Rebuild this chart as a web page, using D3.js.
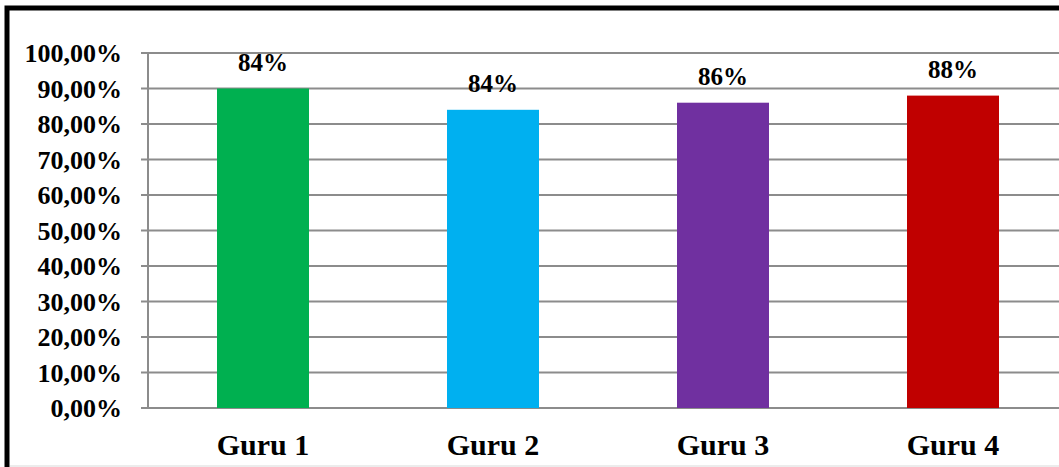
<!DOCTYPE html>
<html>
<head>
<meta charset="utf-8">
<script src="https://cdn.jsdelivr.net/npm/d3@7"></script>
<style>
  body { margin: 0; background: #fff; }
  text { font-family: "Liberation Serif", "Times New Roman", serif; font-weight: bold; fill: #000; }
</style>
</head>
<body>
<div id="chart"></div>
<script>
const categories = ["Guru 1", "Guru 2", "Guru 3", "Guru 4"]
const values = [90, 84, 86, 88]
const valueLabels = ["84%", "84%", "86%", "88%"]
const colors = ["#00B050", "#00B0F0", "#7030A0", "#C00000"]
const yTicks = [0, 10, 20, 30, 40, 50, 60, 70, 80, 90, 100]

const width = 1059
const height = 467
const margin = { top: 53, left: 148, bottom: 59 }

const svg = d3.select("#chart")
  .append("svg")
  .attr("width", width)
  .attr("height", height)

// frame
svg.append("rect")
  .attr("x", 7).attr("y", 8)
  .attr("width", width + 10).attr("height", height + 10)
  .attr("fill", "#fff")
  .attr("stroke", "#000")
  .attr("stroke-width", 5)

svg.append("line")
  .attr("x1", 10).attr("x2", width)
  .attr("y1", 466).attr("y2", 466)
  .attr("stroke", "#d9d9d9")
  .attr("stroke-width", 1)

const x = d3.scaleBand()
  .domain(categories)
  .range([margin.left, margin.left + 4 * 230])
  .paddingInner(0.6)
  .paddingOuter(0.3)

const y = d3.scaleLinear()
  .domain([0, 100])
  .range([height - margin.bottom, margin.top])

// gridlines
svg.append("g")
  .selectAll("line")
  .data(yTicks)
  .join("line")
  .attr("x1", margin.left - 7)
  .attr("x2", width)
  .attr("y1", d => y(d))
  .attr("y2", d => y(d))
  .attr("stroke", "#8c8c8c")
  .attr("stroke-width", 2)

// y axis line
svg.append("line")
  .attr("x1", margin.left).attr("x2", margin.left)
  .attr("y1", y(100)).attr("y2", y(0))
  .attr("stroke", "#8c8c8c")
  .attr("stroke-width", 2)

// y labels
svg.append("g")
  .selectAll("text")
  .data(yTicks)
  .join("text")
  .attr("x", 122)
  .attr("y", d => y(d))
  .attr("dy", "0.35em")
  .attr("text-anchor", "end")
  .style("font-size", "26px")
  .text(d => d3.format(".2f")(d).replace(".", ",") + "%")

// bars
svg.append("g")
  .selectAll("rect")
  .data(values)
  .join("rect")
  .attr("x", (d, i) => x(categories[i]))
  .attr("y", d => y(d))
  .attr("width", x.bandwidth())
  .attr("height", d => y(0) - y(d))
  .attr("fill", (d, i) => colors[i])

// value labels
svg.append("g")
  .selectAll("text")
  .data(values)
  .join("text")
  .attr("x", (d, i) => x(categories[i]) + x.bandwidth() / 2)
  .attr("y", d => y(d) - 18)
  .attr("text-anchor", "middle")
  .style("font-size", "25px")
  .text((d, i) => valueLabels[i])

// x labels
svg.append("g")
  .selectAll("text")
  .data(categories)
  .join("text")
  .attr("x", d => x(d) + x.bandwidth() / 2)
  .attr("y", 455)
  .attr("text-anchor", "middle")
  .style("font-size", "30px")
  .text(d => d)
</script>
</body>
</html>
